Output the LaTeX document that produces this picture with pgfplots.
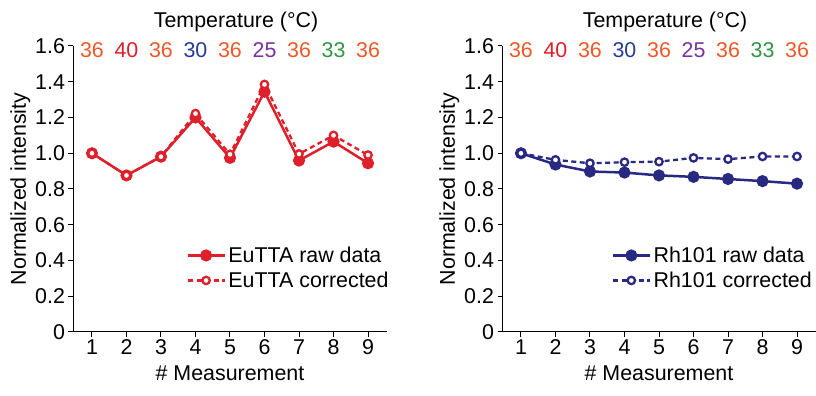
\documentclass[border=0pt]{standalone}
\usepackage{fontspec}
\setmainfont{Liberation Sans}
\usepackage{pgfplots}
\pgfplotsset{compat=1.18}
\definecolor{eured}{RGB}{222,32,42}
\definecolor{navy}{RGB}{40,42,130}
\definecolor{tor}{RGB}{238,88,40}
\definecolor{tred}{RGB}{225,28,40}
\definecolor{tblue}{RGB}{40,60,150}
\definecolor{tpur}{RGB}{120,50,160}
\definecolor{tgrn}{RGB}{50,150,70}
\newcommand\fs{\fontsize{21.4bp}{26bp}\selectfont}
\pgfplotsset{
  myaxis/.style={
    anchor=south west, scale only axis, width=314bp, height=286bp,
    xmin=0.45, xmax=9.55, ymin=0, ymax=1.6,
    axis x line*=bottom, axis y line*=left,
    axis line style={line width=1bp, black},
    tick style={line width=1bp, black},
    tick align=outside, major tick length=4.5bp,
    xtick={1,...,9},
    ytick={0,0.2,0.4,0.6,0.8,1.0,1.2,1.4,1.6},
    yticklabels={0,0.2,0.4,0.6,0.8,1.0,1.2,1.4,1.6},
    /pgf/number format/assume math mode=true,
    tick label style={font=\fs},
    label style={font=\fs},
    xlabel={\# Measurement},
    ylabel={Normalized intensity},
    ylabel style={yshift=-2bp},
    xlabel style={yshift=-4bp},
    clip=false,
    legend cell align=left,
    legend style={draw=none, fill=none, font=\fs, anchor=north west,
      row sep=4bp, inner sep=0pt, nodes={inner xsep=2bp}},
    legend image code/.code={%
      \draw[#1, mark repeat=2, mark phase=2] plot coordinates {(0bp,0bp) (18bp,0bp) (37bp,0bp)};},
  },
  raw/.style={line width=2.5bp, mark=*, mark size=4.8bp, mark options={solid}},
  cor/.style={line width=2.3bp, dash pattern=on 5bp off 3.5bp, mark=*, mark size=3.7bp, mark options={solid, fill=white}},
}
\newcommand\tnode[3]{\node[anchor=base, text=#3, font=\fs, yshift=-12bp, inner sep=0pt] at (axis cs:#1,1.6) {#2};}
\newcommand\temps{%
  \tnode{1}{36}{tor}\tnode{2}{40}{tred}\tnode{3}{36}{tor}\tnode{4}{30}{tblue}\tnode{5}{36}{tor}%
  \tnode{6}{25}{tpur}\tnode{7}{36}{tor}\tnode{8}{33}{tgrn}\tnode{9}{36}{tor}%
  \node[anchor=base, font=\fs, inner sep=0pt, xshift=6bp, yshift=18bp] at (rel axis cs:0.5,1) {Temperature (°C)};
}
\begin{document}
\begin{tikzpicture}
\useasboundingbox (0,0) rectangle (816bp,396bp);
\begin{axis}[myaxis, at={(73bp,64bp)},
  legend style={at={(rel axis cs:0.362,0.305)}}]
\addplot[raw, color=eured] coordinates {(1,1.00) (2,0.876) (3,0.981) (4,1.20) (5,0.974) (6,1.344) (7,0.959) (8,1.065) (9,0.944)};
\addlegendentry{EuTTA raw data}
\addplot[cor, color=eured] coordinates {(1,1.00) (2,0.876) (3,0.981) (4,1.222) (5,0.994) (6,1.385) (7,0.996) (8,1.10) (9,0.99)};
\addlegendentry{EuTTA corrected}
\temps
\end{axis}
\begin{axis}[myaxis, at={(502bp,64bp)},
  legend style={at={(rel axis cs:0.35,0.305)}}]
\addplot[raw, color=navy] coordinates {(1,1.00) (2,0.937) (3,0.898) (4,0.892) (5,0.876) (6,0.868) (7,0.856) (8,0.844) (9,0.83)};
\addlegendentry{Rh101 raw data}
\addplot[cor, color=navy] coordinates {(1,1.00) (2,0.963) (3,0.944) (4,0.95) (5,0.953) (6,0.974) (7,0.967) (8,0.982) (9,0.982)};
\addlegendentry{Rh101 corrected}
\temps
\end{axis}
\end{tikzpicture}
\end{document}
